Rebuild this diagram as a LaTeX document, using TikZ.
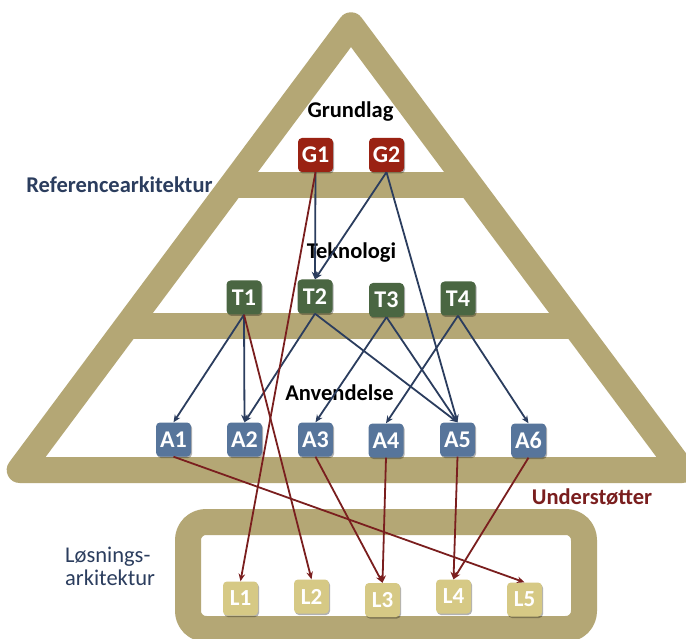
\documentclass[tikz,border=0pt]{standalone}
\usepackage{fontspec}
\setmainfont{Carlito}
\usetikzlibrary{arrows.meta,calc,shadows}

\definecolor{framecol}{HTML}{B4A775}
\definecolor{gcol}{HTML}{9A2213}
\definecolor{tcol}{HTML}{4A6642}
\definecolor{acol}{HTML}{57759B}
\definecolor{lcol}{HTML}{D6C985}
\definecolor{navy}{HTML}{2B3D5E}
\definecolor{wine}{HTML}{7A1E1E}

\tikzset{
  frame/.style={draw=framecol, line width=26pt, line join=round},
  box/.style={rounded corners=4pt, minimum width=35pt, minimum height=34pt,
    inner sep=0pt, text=white, font=\bfseries\fontsize{24}{24}\selectfont,
    drop shadow={shadow xshift=1pt, shadow yshift=-1.5pt, opacity=0.3, fill=black}},
  gbox/.style={box, fill=gcol},
  tbox/.style={box, fill=tcol},
  abox/.style={box, fill=acol},
  lbox/.style={box, fill=lcol, font=\bfseries\fontsize{23}{23}\selectfont},
  lbl/.style={font=\bfseries\fontsize{22.5}{22.5}\selectfont, text=black, inner sep=0pt},
  reflbl/.style={font=\bfseries\fontsize{22.5}{22.5}\selectfont, text=navy, inner sep=0pt},
  redlbl/.style={font=\bfseries\fontsize{22.5}{22.5}\selectfont, text=wine, inner sep=0pt},
  loslbl/.style={font=\fontsize{22.5}{23}\selectfont, text=navy, inner sep=0pt, align=left},
  blue/.style={draw=navy, line width=1.8pt, -{Stealth[length=7.5pt,width=6.5pt]}},
  red/.style={draw=wine, line width=1.8pt, -{Stealth[length=7.5pt,width=6.5pt]}},
}

\begin{document}
\begin{tikzpicture}[x=1pt,y=-1pt]
\useasboundingbox[fill=white] (0,0) rectangle (686,639);

% pyramid outline and its two dividing bands
\coordinate (apex) at (351,25.3);
\coordinate (bl) at (19.7,470);
\coordinate (br) at (682.3,470);
\draw[frame] (apex) -- (bl) -- (br) -- cycle;
\draw[draw=framecol, line width=26pt] ($(apex)!0.359!(bl)$) -- ($(apex)!0.359!(br)$);
\draw[draw=framecol, line width=26pt] ($(apex)!0.677!(bl)$) -- ($(apex)!0.677!(br)$);

% solution frame
\draw[frame, rounded corners=18pt] (188,522) rectangle (584,629);

% layer titles
\node[lbl] (grund) at (350.5,112) {Grundlag};
\node[lbl] (tek) at (351.5,253) {Teknologi};
\node[lbl] (anv) at (339.5,393) {Anvendelse};
\node[reflbl] (ref) at (119.5,185) {Referencearkitektur};
\node[redlbl] (und) at (592,497) {Understøtter};
\node[loslbl, anchor=west] (los) at (65,566) {Løsnings-\\arkitektur};

% elements
\node[gbox] (G1) at (315.5,155) {G1};
\node[gbox] (G2) at (386.5,155) {G2};

\node[tbox] (T1) at (244,297.5) {T1};
\node[tbox] (T2) at (315,296.5) {T2};
\node[tbox] (T3) at (386.5,300) {T3};
\node[tbox] (T4) at (458,298.5) {T4};

\node[abox] (A1) at (173.5,439.5) {A1};
\node[abox] (A2) at (244.5,439.5) {A2};
\node[abox] (A3) at (315.5,439.5) {A3};
\node[abox] (A4) at (386,440.5) {A4};
\node[abox] (A5) at (457.5,439.5) {A5};
\node[abox] (A6) at (528.5,440.5) {A6};

\node[lbox] (L1) at (240.5,598.5) {L1};
\node[lbox] (L2) at (311.5,596.5) {L2};
\node[lbox] (L3) at (382.5,600) {L3};
\node[lbox] (L4) at (453.5,596.5) {L4};
\node[lbox] (L5) at (524.5,599.5) {L5};

% dependencies within the reference architecture
\draw[blue] (G1.south) -- (T2.north);
\draw[blue] (G2.south) -- (T2.north);
\draw[blue] (G2.south) -- (A5.north);
\draw[blue] (T1.south) -- (A1.north);
\draw[blue] (T1.south) -- (A2.north);
\draw[blue] (T2.south) -- (A2.north);
\draw[blue] (T2.south) -- (A5.north);
\draw[blue] (T3.south) -- (A3.north);
\draw[blue] (T3.south) -- (A5.north);
\draw[blue] (T4.south) -- (A4.north);
\draw[blue] (T4.south) -- (A6.north);

% support for the solution architecture
\draw[red] (G1.south) -- (L1.north);
\draw[red] (T1.south) -- (L2.north);
\draw[red] (A1.south) -- (L5.north);
\draw[red] (A3.south) -- (L3.north);
\draw[red] (A4.south) -- (L3.north);
\draw[red] (A5.south) -- (L4.north);
\draw[red] (A6.south) -- (L4.north);
\end{tikzpicture}
\end{document}
